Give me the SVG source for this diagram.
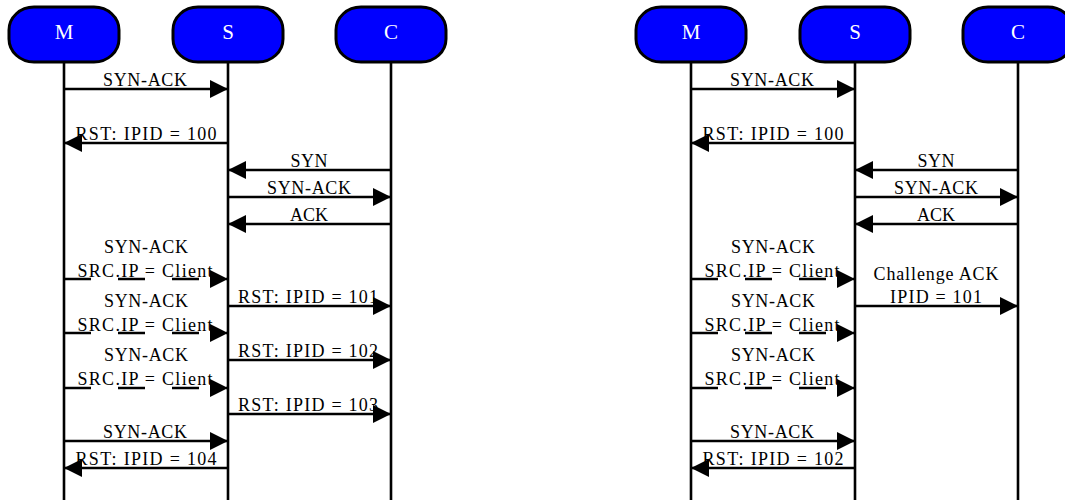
<svg xmlns="http://www.w3.org/2000/svg" width="1065" height="500" viewBox="0 0 1065 500">
  <style>
    .node rect { fill: #0000ff; stroke: #000; stroke-width: 3; }
    .node text { fill: #fff; font-family: "Liberation Serif", serif; font-size: 21px; text-anchor: middle; }
    .life { stroke: #000; stroke-width: 2.6; fill: none; }
    .msg { stroke: #000; stroke-width: 2.6; fill: none; marker-end: url(#head); }
    .spoof { stroke-dasharray: 27 27; }
    .lbl { font-family: "Liberation Serif", serif; font-size: 18px; text-anchor: middle; fill: #000; }
  </style>
  <defs>
    <marker id="head" markerUnits="userSpaceOnUse" markerWidth="18" markerHeight="18" refX="18" refY="9" orient="auto">
      <path d="M0,0 L18,9 L0,18 z" fill="#000"/>
    </marker>
  </defs>
  <rect width="1065" height="500" fill="#fff"/>

  <!-- lifelines -->
  <g id="lifelines">
    <line class="life" x1="64" y1="62" x2="64" y2="500"/>
    <line class="life" x1="228" y1="62" x2="228" y2="500"/>
    <line class="life" x1="391" y1="62" x2="391" y2="500"/>
    <line class="life" x1="691" y1="62" x2="691" y2="500"/>
    <line class="life" x1="855" y1="62" x2="855" y2="500"/>
    <line class="life" x1="1018" y1="62" x2="1018" y2="500"/>
  </g>

  <!-- participants, first scenario -->
  <g id="m1" class="node"><rect x="9" y="7" width="110" height="55" rx="25" ry="23"/><text x="64" y="39">M</text></g>
  <g id="s1" class="node"><rect x="173" y="7" width="110" height="55" rx="25" ry="23"/><text x="228" y="39">S</text></g>
  <g id="c1" class="node"><rect x="336" y="7" width="110" height="55" rx="25" ry="23"/><text x="391" y="39">C</text></g>

  <!-- participants, second scenario -->
  <g id="m2" class="node"><rect x="636" y="7" width="110" height="55" rx="25" ry="23"/><text x="691" y="39">M</text></g>
  <g id="s2" class="node"><rect x="800" y="7" width="110" height="55" rx="25" ry="23"/><text x="855" y="39">S</text></g>
  <g id="c2" class="node"><rect x="963" y="7" width="110" height="55" rx="25" ry="23"/><text x="1018" y="39">C</text></g>

  <!-- messages -->
  <g id="connectors">
    <!-- first scenario -->
    <line class="msg" x1="64" y1="89" x2="228" y2="89"/>
    <line class="msg" x1="228" y1="143" x2="64" y2="143"/>
    <line class="msg" x1="391" y1="170" x2="228" y2="170"/>
    <line class="msg" x1="228" y1="197" x2="391" y2="197"/>
    <line class="msg" x1="391" y1="224" x2="228" y2="224"/>
    <line class="msg spoof" x1="64" y1="279" x2="228" y2="279"/>
    <line class="msg" x1="228" y1="306" x2="391" y2="306"/>
    <line class="msg spoof" x1="64" y1="333" x2="228" y2="333"/>
    <line class="msg" x1="228" y1="360" x2="391" y2="360"/>
    <line class="msg spoof" x1="64" y1="388" x2="228" y2="388"/>
    <line class="msg" x1="228" y1="414" x2="391" y2="414"/>
    <line class="msg" x1="64" y1="441" x2="228" y2="441"/>
    <line class="msg" x1="228" y1="468" x2="64" y2="468"/>

    <!-- second scenario -->
    <line class="msg" x1="691" y1="89" x2="855" y2="89"/>
    <line class="msg" x1="855" y1="143" x2="691" y2="143"/>
    <line class="msg" x1="1018" y1="170" x2="855" y2="170"/>
    <line class="msg" x1="855" y1="197" x2="1018" y2="197"/>
    <line class="msg" x1="1018" y1="224" x2="855" y2="224"/>
    <line class="msg spoof" x1="691" y1="279" x2="855" y2="279"/>
    <line class="msg" x1="855" y1="306" x2="1018" y2="306"/>
    <line class="msg spoof" x1="691" y1="333" x2="855" y2="333"/>
    <line class="msg spoof" x1="691" y1="388" x2="855" y2="388"/>
    <line class="msg" x1="691" y1="441" x2="855" y2="441"/>
    <line class="msg" x1="855" y1="468" x2="691" y2="468"/>
  </g>

  <!-- message labels -->
  <g id="labels" class="lbl">
    <text class="lbl" x="145" y="86" textLength="84">SYN-ACK</text>
    <text class="lbl" x="146" y="140" textLength="141">RST: IPID = 100</text>
    <text class="lbl" x="309" y="167" textLength="37">SYN</text>
    <text class="lbl" x="309" y="194" textLength="84">SYN-ACK</text>
    <text class="lbl" x="309" y="221" textLength="38">ACK</text>
    <text class="lbl" x="146" y="253" textLength="84">SYN-ACK</text>
    <text class="lbl" x="145" y="277" textLength="135">SRC.IP = Client</text>
    <text class="lbl" x="308" y="303" textLength="140">RST: IPID = 101</text>
    <text class="lbl" x="146" y="307" textLength="84">SYN-ACK</text>
    <text class="lbl" x="145" y="331" textLength="135">SRC.IP = Client</text>
    <text class="lbl" x="308" y="357" textLength="140">RST: IPID = 102</text>
    <text class="lbl" x="146" y="361" textLength="84">SYN-ACK</text>
    <text class="lbl" x="145" y="385" textLength="135">SRC.IP = Client</text>
    <text class="lbl" x="308" y="411" textLength="140">RST: IPID = 103</text>
    <text class="lbl" x="145" y="438" textLength="84">SYN-ACK</text>
    <text class="lbl" x="146" y="465" textLength="141">RST: IPID = 104</text>

    <text class="lbl" x="772" y="86" textLength="84">SYN-ACK</text>
    <text class="lbl" x="773" y="140" textLength="141">RST: IPID = 100</text>
    <text class="lbl" x="936" y="167" textLength="37">SYN</text>
    <text class="lbl" x="936" y="194" textLength="84">SYN-ACK</text>
    <text class="lbl" x="936" y="221" textLength="38">ACK</text>
    <text class="lbl" x="773" y="253" textLength="84">SYN-ACK</text>
    <text class="lbl" x="772" y="277" textLength="135">SRC.IP = Client</text>
    <text class="lbl" x="936" y="280" textLength="125">Challenge ACK</text>
    <text class="lbl" x="936" y="303" textLength="92">IPID = 101</text>
    <text class="lbl" x="773" y="307" textLength="84">SYN-ACK</text>
    <text class="lbl" x="772" y="331" textLength="135">SRC.IP = Client</text>
    <text class="lbl" x="773" y="361" textLength="84">SYN-ACK</text>
    <text class="lbl" x="772" y="385" textLength="135">SRC.IP = Client</text>
    <text class="lbl" x="772" y="438" textLength="84">SYN-ACK</text>
    <text class="lbl" x="773" y="465" textLength="141">RST: IPID = 102</text>
  </g>
</svg>
